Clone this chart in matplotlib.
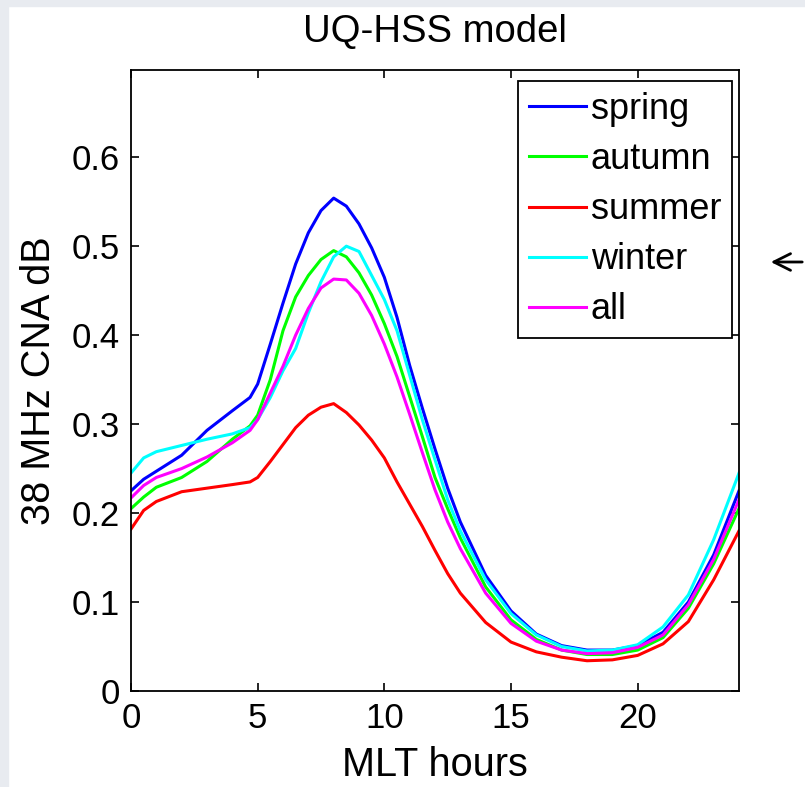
import matplotlib
matplotlib.use("Agg")
import matplotlib.pyplot as plt
from matplotlib.patches import Rectangle

# MLT hour grid the curves were read on
hours = [0, 0.5, 1, 2, 3, 4, 4.7, 5, 5.5, 6, 6.5, 7, 7.5, 8, 8.5, 9, 9.5, 10,
         10.5, 11, 11.5, 12, 12.5, 13, 14, 15, 16, 17, 18, 19, 20, 21, 22, 23, 24]

spring = [0.225, 0.238, 0.247, 0.265, 0.293, 0.315, 0.330, 0.345, 0.390, 0.436,
          0.480, 0.515, 0.540, 0.554, 0.545, 0.525, 0.498, 0.465, 0.420, 0.366,
          0.318, 0.272, 0.228, 0.190, 0.130, 0.090, 0.064, 0.051, 0.046, 0.046,
          0.051, 0.066, 0.100, 0.153, 0.225]
autumn = [0.205, 0.218, 0.229, 0.240, 0.258, 0.283, 0.298, 0.310, 0.350, 0.405,
          0.443, 0.467, 0.485, 0.495, 0.488, 0.470, 0.445, 0.413, 0.376, 0.331,
          0.286, 0.240, 0.205, 0.172, 0.117, 0.080, 0.058, 0.046, 0.041, 0.041,
          0.046, 0.060, 0.093, 0.143, 0.205]
summer = [0.182, 0.203, 0.213, 0.224, 0.228, 0.232, 0.235, 0.240, 0.258, 0.277,
          0.296, 0.310, 0.319, 0.323, 0.313, 0.299, 0.282, 0.262, 0.235, 0.210,
          0.185, 0.158, 0.132, 0.110, 0.077, 0.055, 0.044, 0.038, 0.034, 0.035,
          0.040, 0.053, 0.078, 0.125, 0.180]
winter = [0.245, 0.262, 0.269, 0.276, 0.283, 0.289, 0.296, 0.305, 0.330, 0.360,
          0.385, 0.425, 0.460, 0.488, 0.500, 0.494, 0.467, 0.440, 0.405, 0.355,
          0.305, 0.260, 0.215, 0.180, 0.125, 0.087, 0.063, 0.050, 0.045, 0.046,
          0.052, 0.072, 0.108, 0.170, 0.245]
all_seasons = [0.217, 0.231, 0.240, 0.250, 0.263, 0.279, 0.293, 0.305, 0.335, 0.365,
               0.400, 0.430, 0.453, 0.463, 0.462, 0.447, 0.422, 0.390, 0.353, 0.311,
               0.268, 0.226, 0.190, 0.160, 0.110, 0.076, 0.056, 0.046, 0.042, 0.043,
               0.049, 0.063, 0.097, 0.148, 0.215]

labels = ["spring", "autumn", "summer", "winter", "all"]
colors = ["#0000ff", "#00ff00", "#ff0000", "#00ffff", "#ff00ff"]

plt.rcParams['font.family'] = ['Liberation Sans', 'DejaVu Sans']
plt.rcParams['font.size'] = 25

fig = plt.figure(figsize=(8.05, 7.87), dpi=100, facecolor="white")
# light frame of the screenshot
fig.patches.append(Rectangle((0, 0), 8 / 805, 1, transform=fig.transFigure,
                             color="#e8ebf0", zorder=0))
fig.patches.append(Rectangle((0, 1 - 6 / 787), 1, 6 / 787, transform=fig.transFigure,
                             color="#e8ebf0", zorder=0))

ax = fig.add_axes([131 / 805, 96 / 787, 608 / 805, 621 / 787])
for y, lab, c in zip([spring, autumn, summer, winter, all_seasons], labels, colors):
    ax.plot(hours, y, color=c, lw=2.2, label=lab)

ax.set_xlim(0, 24)
ax.set_ylim(0, 0.698)
ax.set_xticks([0, 5, 10, 15, 20])
ax.set_yticks([0, 0.1, 0.2, 0.3, 0.4, 0.5, 0.6])
ax.set_yticklabels(["0", "0.1", "0.2", "0.3", "0.4", "0.5", "0.6"])
ax.tick_params(direction="in", length=6, width=1.2, top=True, right=True, pad=8)
for s in ax.spines.values():
    s.set_linewidth(1.3)

ax.set_title("UQ-HSS model", pad=20, fontsize=27.5)
ax.set_xlabel("MLT hours", labelpad=8, fontsize=28.5)
ax.set_ylabel("38 MHz CNA dB", labelpad=10, fontsize=28.5)

leg = ax.legend(loc="upper right", bbox_to_anchor=(732 / 805, 706 / 787),
                bbox_transform=fig.transFigure, fancybox=False, framealpha=1,
                edgecolor="black", handlelength=1.6, handletextpad=0.12,
                labelspacing=0.42, borderpad=0.3, borderaxespad=0, fontsize=26)
leg.get_frame().set_linewidth(1.3)

ax.annotate("", xy=(768, 525), xytext=(805, 525), xycoords="figure pixels",
            textcoords="figure pixels",
            arrowprops=dict(arrowstyle="->", lw=2.0, color="black",
                            mutation_scale=30))

fig.savefig("out.png", dpi=100, facecolor=fig.get_facecolor())
